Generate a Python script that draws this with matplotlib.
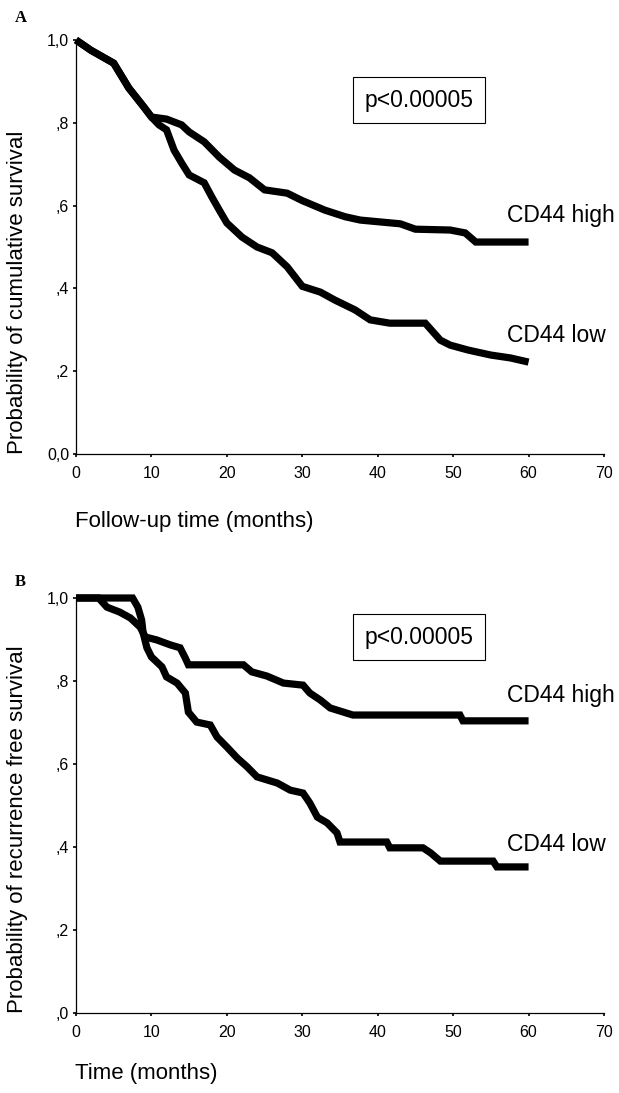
import matplotlib
matplotlib.use("Agg")
import matplotlib.pyplot as plt

plt.rcParams['font.family'] = ['Liberation Sans', 'DejaVu Sans']

# Panel A - overall survival (months, probability)
a_high_t = [0, 2, 5, 7, 9, 10, 12, 14, 15, 17, 19, 21, 23, 25, 28, 30, 33, 35.7, 37.7,
            43, 45, 49.6, 51.6, 53, 60]
a_high_s = [1.0, 0.975, 0.944, 0.884, 0.838, 0.814, 0.809, 0.795, 0.778, 0.754, 0.717,
            0.686, 0.667, 0.638, 0.630, 0.612, 0.589, 0.573, 0.565, 0.556, 0.543, 0.541,
            0.534, 0.512, 0.512]
a_low_t = [0, 2, 5, 7, 9, 10, 11, 12, 13, 14, 15, 17, 18, 19, 20, 22, 24, 26, 28, 30,
           32.4, 34.3, 37, 39, 41.6, 46.3, 48.3, 49.6, 52, 55, 57.6, 60]
a_low_s = [1.0, 0.975, 0.944, 0.884, 0.838, 0.814, 0.795, 0.783, 0.734, 0.703, 0.674,
           0.655, 0.621, 0.589, 0.558, 0.524, 0.500, 0.486, 0.452, 0.405, 0.391, 0.372,
           0.348, 0.324, 0.316, 0.316, 0.275, 0.263, 0.251, 0.239, 0.232, 0.222]

# Panel B - recurrence free survival
b_high_t = [0, 3, 4.1, 5.8, 7.2, 8.5, 9.2, 10.7, 12.5, 13.8, 14.5, 14.9, 22.2, 23.3,
            25.3, 27.5, 30.1, 31, 32.4, 33.7, 36.7, 50.9, 51.3, 60]
b_high_s = [1.0, 1.0, 0.978, 0.966, 0.952, 0.930, 0.906, 0.899, 0.887, 0.880, 0.855,
            0.839, 0.839, 0.822, 0.812, 0.795, 0.790, 0.771, 0.754, 0.735, 0.718, 0.718,
            0.704, 0.704]
b_low_t = [0, 7.5, 8.2, 8.7, 8.9, 9.4, 10, 11.4, 12, 13.4, 14.5, 14.9, 16, 17.8, 18.7,
           20, 21.4, 22.7, 24, 26.7, 28.4, 30.1, 31, 32, 33.3, 34.6, 35, 41.2, 41.6, 46,
           47, 48.3, 55.3, 55.8, 60]
b_low_s = [1.0, 1.0, 0.978, 0.947, 0.916, 0.880, 0.858, 0.834, 0.810, 0.795, 0.771,
           0.725, 0.701, 0.694, 0.665, 0.641, 0.614, 0.593, 0.569, 0.554, 0.537, 0.530,
           0.506, 0.472, 0.458, 0.434, 0.412, 0.412, 0.398, 0.398, 0.386, 0.366, 0.366,
           0.352, 0.352]

x_ticks = [0, 10, 20, 30, 40, 50, 60, 70]
y_ticks = [0, 0.2, 0.4, 0.6, 0.8, 1.0]
a_ytick_labels = ['0,0', ',2', ',4', ',6', ',8', '1,0']
b_ytick_labels = [',0', ',2', ',4', ',6', ',8', '1,0']

W, H = 619, 1093


def fx(px):
    return px / W


def fy(py):
    return 1 - py / H


def panel(fig, top_px, bottom_px, high, low, yticklabels, ylabel, xlabel, xlabel_py,
          letter, letter_py, p_y, high_y, low_y):
    ax = fig.add_axes([fx(76), fy(bottom_px), (604 - 76) / W, (bottom_px - top_px) / H])
    ax.plot(high[0], high[1], color='black', lw=5.2, clip_on=False,
            solid_joinstyle='miter', solid_capstyle='butt')
    ax.plot(low[0], low[1], color='black', lw=5.2, clip_on=False,
            solid_joinstyle='miter', solid_capstyle='butt')
    ax.set_xlim(0, 70)
    ax.set_ylim(0, 1)
    ax.spines['top'].set_visible(False)
    ax.spines['right'].set_visible(False)
    ax.spines['left'].set_linewidth(0.9)
    ax.spines['bottom'].set_linewidth(0.9)
    ax.set_xticks(x_ticks)
    ax.set_yticks(y_ticks)
    ax.set_yticklabels(yticklabels)
    ax.tick_params(direction='out', length=2.5, width=1.2, labelsize=11.5, pad=2.5)
    ax.tick_params(axis='x', pad=6)

    ax.text(45.5, p_y, 'p<0.00005', fontsize=16.5, ha='center', va='center',
            bbox=dict(boxstyle='square,pad=0.5', fc='white', ec='black', lw=0.8))
    ax.text(57.2, high_y, 'CD44 high', fontsize=16.5, ha='left', va='center')
    ax.text(57.2, low_y, 'CD44 low', fontsize=16.5, ha='left', va='center')

    fig.text(fx(18), fy(bottom_px), ylabel, rotation=90, fontsize=16,
             ha='center', va='bottom')
    fig.text(fx(75), fy(xlabel_py), xlabel, fontsize=16, ha='left', va='center')
    fig.text(fx(15), fy(letter_py), letter, fontsize=12, fontweight='bold',
             family='Liberation Serif', ha='left', va='center')
    return ax


def main():
    fig = plt.figure(figsize=(W / 100, H / 100), dpi=100)

    panel(fig, 40, 454, (a_high_t, a_high_s), (a_low_t, a_low_s), a_ytick_labels,
          'Probability of cumulative survival', 'Follow-up time (months)', 522,
          'A', 18, 0.854, 0.577, 0.287)
    panel(fig, 598, 1013, (b_high_t, b_high_s), (b_low_t, b_low_s), b_ytick_labels,
          'Probability of recurrence free survival', 'Time (months)', 1073,
          'B', 582, 0.906, 0.766, 0.405)

    fig.savefig('out.png', dpi=100)


if __name__ == "__main__":
    main()
